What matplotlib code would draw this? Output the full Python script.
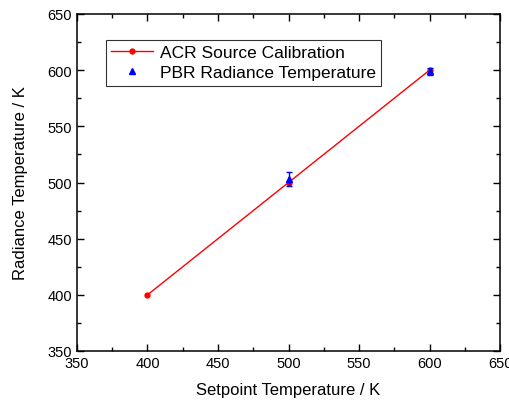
import numpy as np
import matplotlib.pyplot as plt
from matplotlib.ticker import MultipleLocator

plt.rcParams['font.family'] = ['Liberation Sans', 'DejaVu Sans']

# data
acr_x = [400, 500, 600]
acr_y = [400, 500, 600]
pbr_x = [500, 600]
pbr_y = [503, 599]
pbr_err = [6, 3]

fig = plt.figure(figsize=(5.1, 4.02), dpi=100)
ax = fig.add_axes([77 / 510, 50 / 402, 423 / 510, 337 / 402])

ax.plot(acr_x, acr_y, color='red', marker='o', markersize=3.5, linewidth=1,
        label='ACR Source Calibration')
ax.errorbar(pbr_x, pbr_y, yerr=pbr_err, color='blue', marker='^', markersize=5,
            linestyle='None', capsize=2, elinewidth=1)
# legend entry shows only the triangle
ax.plot([], [], color='blue', marker='^', markersize=5, linestyle='None',
        label='PBR Radiance Temperature')

ax.set_xlim(350, 650)
ax.set_ylim(350, 650)
ax.xaxis.set_major_locator(MultipleLocator(50))
ax.yaxis.set_major_locator(MultipleLocator(50))
ax.xaxis.set_minor_locator(MultipleLocator(25))
ax.yaxis.set_minor_locator(MultipleLocator(25))
ax.tick_params(which='both', direction='in', top=True, right=True, labelsize=10.5,
               width=1)
ax.tick_params(which='major', length=5)
ax.tick_params(which='minor', length=3)
for s in ax.spines.values():
    s.set_linewidth(1.1)

ax.set_xlabel('Setpoint Temperature / K', fontsize=12, labelpad=9)
ax.set_ylabel('Radiance Temperature / K', fontsize=12, labelpad=14)

leg = ax.legend(loc='upper left', bbox_to_anchor=(0.068, 0.924), fontsize=12.5,
                frameon=True, fancybox=False, edgecolor='black',
                handlelength=2.4, handletextpad=0.4, borderpad=0.3,
                labelspacing=0.3, borderaxespad=0)
leg.get_frame().set_linewidth(0.8)

plt.savefig('out.png', dpi=100)
